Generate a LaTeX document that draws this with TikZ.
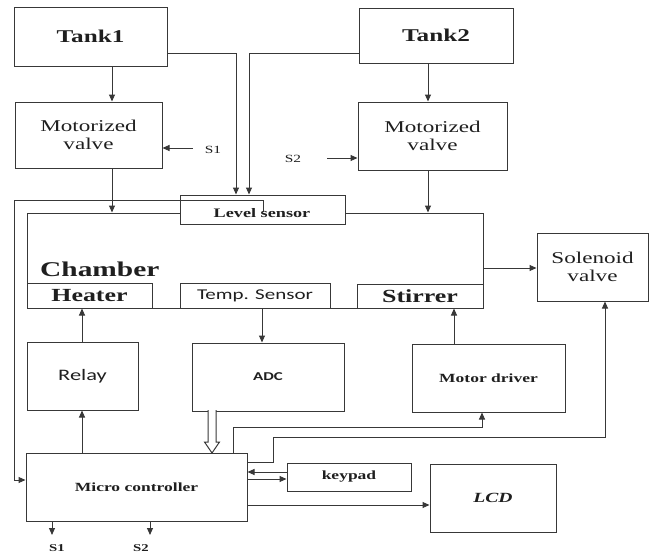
\documentclass[tikz,border=0pt]{standalone}
\usepackage{fontspec}
\setmainfont[FakeStretch=1.4]{Liberation Serif}
\setsansfont[FakeStretch=1.4]{Carlito}
\usetikzlibrary{arrows.meta}
\tikzset{
  box/.style={draw=black!78, line width=1pt, inner sep=0pt, align=center, text=black!88},
  wire/.style={draw=black!78, line width=1pt},
  arr/.style={wire, -{Triangle[length=7pt,width=6pt]}},
  lbl/.style={inner sep=0pt, text=black!88},
  tankfont/.style={font=\fontsize{18}{20}\selectfont\bfseries},
  valvefont/.style={font=\fontsize{16.5}{18}\selectfont},
  partfont/.style={font=\fontsize{18.5}{20}\selectfont\bfseries},
  smallbold/.style={font=\fontsize{12.5}{14}\selectfont\bfseries},
  sansfont/.style={font=\fontsize{16}{18}\selectfont\sffamily},
}
\begin{document}
\begin{tikzpicture}[x=1pt,y=-1pt]
\useasboundingbox[fill=white] (0,0) rectangle (651,554);

% top row
\node[box, tankfont, minimum width=153pt, minimum height=59pt] (tank1) at (90.5,36.5) {Tank1};
\node[box, tankfont, minimum width=154pt, minimum height=55pt] (tank2) at (436,35.5) {Tank2};
\node[box, valvefont, minimum width=147pt, minimum height=66pt] (mv1) at (88.5,135) {Motorized\\valve};
\node[box, valvefont, minimum width=149pt, minimum height=68pt] (mv2) at (432.5,136) {Motorized\\valve};

% chamber
\node[box, minimum width=456pt, minimum height=95pt] (chamber) at (255,260.5) {};
\node[lbl, anchor=west, font=\fontsize{21}{23}\selectfont\bfseries] (chlabel) at (40,269) {Chamber};
\node[box, partfont, minimum width=125pt, minimum height=25pt] (heater) at (89.5,295.5) {Heater};
\node[box, font=\fontsize{15}{17}\selectfont\sffamily, minimum width=150pt, minimum height=25pt] (temp) at (255,295.5) {Temp. Sensor};
\node[box, partfont, minimum width=126pt, minimum height=24pt] (stirrer) at (420,296) {Stirrer};
\node[box, fill=white, minimum width=165pt, minimum height=29pt] (level) at (262.5,209.5) {};
\coordinate (lsout) at (263,212);
\draw[wire] (lsout) -- (263,200) -- (14,200) coordinate (lcorner);
\node[lbl, font=\fontsize{13}{15}\selectfont\bfseries] (leveltext) at (262,213) {Level sensor};

\node[box, valvefont, minimum width=111pt, minimum height=68pt] (sol) at (592.5,267) {Solenoid\\valve};

% middle row
\node[box, sansfont, minimum width=111pt, minimum height=68pt] (relay) at (82.5,376) {Relay};
\node[box, font=\fontsize{12}{14}\selectfont\sffamily\bfseries, minimum width=152pt, minimum height=68pt] (adc) at (268,377) {ADC};
\node[box, smallbold, minimum width=153pt, minimum height=68pt] (motor) at (488.5,378) {Motor driver};

% bottom row
\node[box, smallbold, minimum width=221pt, minimum height=68pt] (mc) at (136.5,487) {Micro controller};
\node[box, smallbold, minimum width=124pt, minimum height=28pt] (keypad) at (349,477) {keypad};
\node[box, font=\fontsize{14}{16}\selectfont\bfseries\itshape, minimum width=126pt, minimum height=68pt] (lcd) at (493,498) {LCD};

% labels
\node[lbl, font=\fontsize{11}{12}\selectfont] (s1a) at (213,150) {S1};
\node[lbl, font=\fontsize{11}{12}\selectfont] (s2a) at (293,159) {S2};
\node[lbl, font=\fontsize{10.5}{12}\selectfont\bfseries] (s1b) at (57,548) {S1};
\node[lbl, font=\fontsize{10.5}{12}\selectfont\bfseries] (s2b) at (141,548) {S2};

% connectors, top
\draw[arr] (tank1.south -| 112,0) -- (mv1.north -| 112,0);
\draw[arr] (mv1.south -| 112,0) -- (chamber.north -| 112,0);
\draw[arr] (tank1.east |- 0,53) -| (level.north -| 236,0);
\draw[arr] (tank2.west |- 0,53) -| (level.north -| 249,0);
\draw[arr] (tank2.south -| 428,0) -- (mv2.north -| 428,0);
\draw[arr] (mv2.south -| 428,0) -- (chamber.north -| 428,0);
\draw[arr] (s1a.west |- 0,148) ++(-12,0) -- (mv1.east |- 0,148);
\draw[arr] (s2a.east |- 0,158) ++(26,0) -- (mv2.west |- 0,158);
\draw[arr] (lcorner) -- (14,480) -- (mc.west |- 0,480);

% chamber connections
\draw[arr] (chamber.east |- 0,268) -- (sol.west |- 0,268);
\draw[arr] (relay.north -| 82,0) -- (heater.south -| 82,0);
\draw[arr] (temp.south -| 262,0) -- (adc.north -| 262,0);
\draw[arr] (motor.north -| 454,0) -- (stirrer.south -| 454,0);

% micro controller connections
\draw[arr] (mc.north -| 82,0) -- (relay.south -| 82,0);
\draw[wire, fill=white] (208,410) -- (208,442) -- (204.5,442) -- (212,453) -- (219.5,442) -- (216,442) -- (216,410);
\draw[arr] (mc.north -| 233,0) -- (233,427) -| (motor.south -| 482,0);
\draw[arr] (mc.east |- 0,462) -- (273,462) -- (273,437) -| (sol.south -| 605,0);
\draw[arr] (keypad.west |- 0,472) -- (mc.east |- 0,472);
\draw[arr] (mc.east |- 0,479) -- (keypad.west |- 0,479);
\draw[arr] (mc.east |- 0,505) -- (lcd.west |- 0,505);
\draw[arr] (mc.south -| 52,0) -- (52,535);
\draw[arr] (mc.south -| 150,0) -- (150,535);
\end{tikzpicture}
\end{document}
